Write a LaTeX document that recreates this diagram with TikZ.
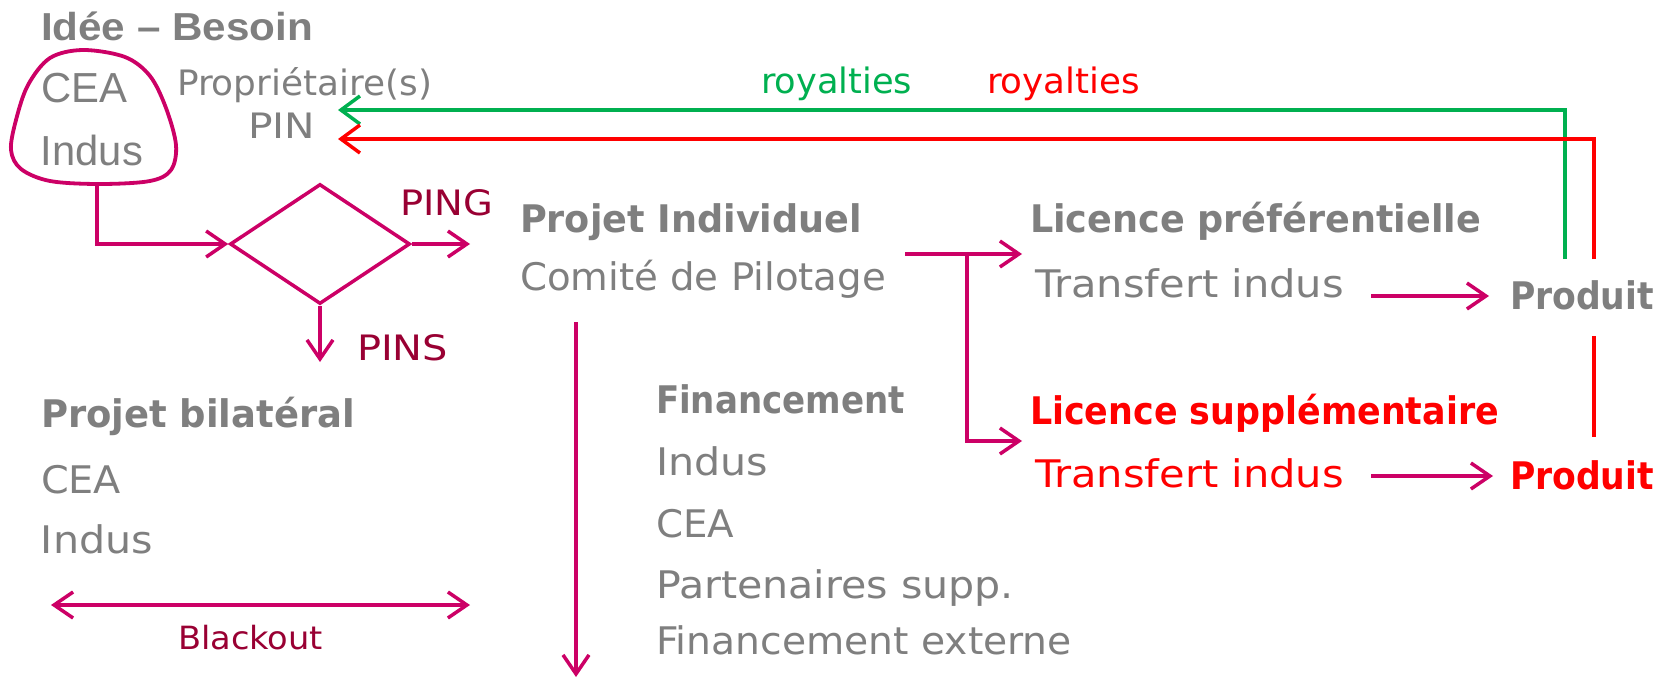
\documentclass[tikz,border=0pt]{standalone}
\usepackage{fontspec}
\usepackage{graphicx}
\setmainfont{DejaVu Sans}
\newfontfamily\arialfont{Liberation Sans}
\usetikzlibrary{arrows.meta,shapes.geometric}
\definecolor{magline}{HTML}{CC0066}
\definecolor{maglbl}{HTML}{990033}
\definecolor{txtgray}{HTML}{7F7F7F}
\definecolor{grn}{HTML}{00B050}
\definecolor{rd}{HTML}{FF0000}
\newcommand{\fs}[1]{\fontsize{#1}{#1}\selectfont}
\newcommand{\fitto}[2]{\resizebox{#1pt}{\height}{#2}}
\tikzset{
  lbl/.style={anchor=base west, inner sep=0pt, outer sep=0pt},
  graytxt/.style={lbl, text=txtgray, font=\fs{38}},
  graybold/.style={lbl, text=txtgray, font=\fs{38}\bfseries},
  redtxt/.style={lbl, text=rd, font=\fs{38}},
  redbold/.style={lbl, text=rd, font=\fs{38}\bfseries},
  magtxt/.style={lbl, text=maglbl, font=\fs{35}},
  magarrow/.style={draw=magline, line width=3.5pt, -{Straight Barb[length=19pt,width=26pt,line width=3.5pt]}},
  magline/.style={draw=magline, line width=3.5pt},
  grnarrow/.style={draw=grn, line width=3.5pt, -{Straight Barb[length=19pt,width=28pt,line width=3.5pt]}},
  rdarrow/.style={draw=rd, line width=3.5pt, -{Straight Barb[length=19pt,width=28pt,line width=3.5pt]}},
}
\begin{document}
\begin{tikzpicture}[x=1pt,y=-1pt]
\useasboundingbox[fill=white] (0,0) rectangle (1673,680);

% Top-left
\node[lbl, text=txtgray, font=\fs{39}\arialfont\bfseries] (idee) at (41,40) {\fitto{272}{Idée – Besoin}};
\draw[magline, line width=3.8pt] plot[smooth cycle, tension=0.55] coordinates {(83,50) (125,57) (150,76) (166,108) (176,145) (171,170) (150,181) (100,184) (50,181) (21,169) (11,150) (16,120) (28,85) (50,58)};
\coordinate (blobB) at (97,184);
\node[lbl, text=txtgray, font=\fs{42}\arialfont] (cea1) at (41,102) {\fitto{86}{CEA}};
\node[lbl, text=txtgray, font=\fs{42}\arialfont] (indus1) at (41,165) {\fitto{102}{Indus}};
\node[graytxt, font=\fs{35}] (prop) at (177,95) {\fitto{255}{Propriétaire(s)}};
\node[graytxt, font=\fs{35}] (pin) at (248,138) {\fitto{67}{PIN}};

% royalties
\node[lbl, text=grn, font=\fs{35}] (roy1) at (761,93) {\fitto{151}{royalties}};
\node[lbl, text=rd, font=\fs{35}] (roy2) at (987,93) {\fitto{153}{royalties}};

% Diamond
\node[diamond, draw=magline, line width=3.5pt, minimum width=180pt, minimum height=120pt, inner sep=0pt, aspect=1.5] (dia) at (320,244) {};
\draw[magarrow] (blobB) |- (dia.west);
\coordinate (pingE) at (470,244);
\draw[magarrow] (dia.east) -- (pingE);
\node[magtxt] (ping) at (400,215) {\fitto{93}{PING}};
\coordinate (pinsE) at (320,362);
\draw[magarrow] (dia.south) -- (pinsE);
\node[magtxt] (pins) at (357,360) {\fitto{91}{PINS}};

% Projet individuel
\node[graybold] (pi) at (520,232) {\fitto{342}{Projet Individuel}};
\node[graytxt] (comite) at (520,290) {\fitto{366}{Comité de Pilotage}};
\coordinate (downS) at (576,322);
\coordinate (downE) at (576,677);
\draw[magarrow] (downS) -- (downE);

\coordinate (brS) at (905,254);
\coordinate (brJ) at (967,254);
\coordinate (lic1W) at (1022,254);
\coordinate (lic2W) at (1022,441);
\draw[magarrow] (brS) -- (lic1W);
\draw[magarrow] (brJ) |- (lic2W);

% Licences
\node[graybold] (lic1) at (1030,232) {\fitto{451}{Licence préférentielle}};
\node[graytxt] (tr1) at (1035,297) {\fitto{309}{Transfert indus}};
\node[graybold] (prod1) at (1510,309) {\fitto{144}{Produit}};
\node[redbold] (lic2) at (1030,424) {\fitto{469}{Licence supplémentaire}};
\node[redtxt] (tr2) at (1035,487) {\fitto{309}{Transfert indus}};
\node[redbold] (prod2) at (1510,489) {\fitto{144}{Produit}};
\coordinate (a1S) at (1371,296);
\coordinate (a1E) at (1489,296);
\coordinate (a2S) at (1371,476);
\coordinate (a2E) at (1493,476);
\draw[magarrow] (a1S) -- (a1E);
\draw[magarrow] (a2S) -- (a2E);

% royalties lines
\coordinate (gS) at (1565,259);
\coordinate (gE) at (338,110);
\coordinate (rS) at (1594,259);
\coordinate (rE) at (338,139);
\draw[grnarrow] (gS) |- (gE);
\draw[rdarrow] (rS) |- (rE);
\coordinate (r2S) at (1594,336);
\coordinate (r2E) at (1594,437);
\draw[draw=rd, line width=3.5pt] (r2S) -- (r2E);

% Projet bilateral
\node[graybold] (pb) at (41,427) {\fitto{314}{Projet bilatéral}};
\node[graytxt] (cea2) at (41,493) {\fitto{80}{CEA}};
\node[graytxt] (indus2) at (41,553) {\fitto{112}{Indus}};
\coordinate (bkL) at (51,605);
\coordinate (bkR) at (470,605);
\draw[magline, {Straight Barb[length=19pt,width=26pt,line width=3.5pt]}-{Straight Barb[length=19pt,width=26pt,line width=3.5pt]}] (bkL) -- (bkR);
\node[magtxt, font=\fs{32}] (blackout) at (178,649) {\fitto{145}{Blackout}};

% Financement
\node[graybold] (fin) at (656,413) {\fitto{249}{Financement}};
\node[graytxt] (fin1) at (656,475) {\fitto{112}{Indus}};
\node[graytxt] (fin2) at (656,537) {\fitto{78}{CEA}};
\node[graytxt] (fin3) at (656,598) {\fitto{358}{Partenaires supp.}};
\node[graytxt] (fin4) at (656,654) {\fitto{416}{Financement externe}};
\end{tikzpicture}
\end{document}
